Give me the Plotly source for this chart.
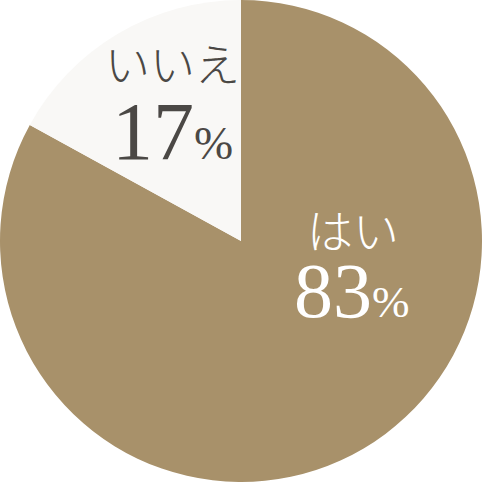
import plotly.graph_objects as go

# data
labels = ["はい", "いいえ"]
values = [83, 17]
colors = ["#A8916A", "#F9F8F6"]
text_colors = ["#FFFFFF", "#4B4845"]

fig = go.Figure(go.Pie(
    labels=labels,
    values=values,
    sort=False,
    direction="clockwise",
    rotation=0,
    marker=dict(colors=colors, line=dict(width=0)),
    textinfo="none",
    hoverinfo="label+percent",
    showlegend=False,
    domain=dict(x=[0, 1], y=[0, 1]),
))

# label positions (paper coords)
label_pos = [(0.733, 0.527), (0.357, 0.871)]
pct_pos = [(0.730, 0.398), (0.357, 0.727)]
num_sizes = [78, 82]
label_sizes = [46, 45]

for i, lab in enumerate(labels):
    fig.add_annotation(
        x=label_pos[i][0], y=label_pos[i][1], xref="paper", yref="paper",
        xanchor="center", yanchor="middle",
        text=lab, showarrow=False,
        font=dict(family="Noto Sans CJK JP", size=label_sizes[i], color=text_colors[i], weight=300),
    )
    fig.add_annotation(
        x=pct_pos[i][0], y=pct_pos[i][1], xref="paper", yref="paper",
        xanchor="center", yanchor="middle",
        text=f"{values[i]}<span style='font-size:{int(num_sizes[i]*0.58)}px'>%</span>",
        showarrow=False,
        font=dict(family="Liberation Serif", size=num_sizes[i], color=text_colors[i]),
    )

fig.update_layout(
    width=482, height=482,
    margin=dict(l=0, r=0, t=0, b=0),
    paper_bgcolor="white",
    plot_bgcolor="white",
)

fig.write_html("out.html", config={"displayModeBar": False},
               post_script="document.body.style.margin='0';")
